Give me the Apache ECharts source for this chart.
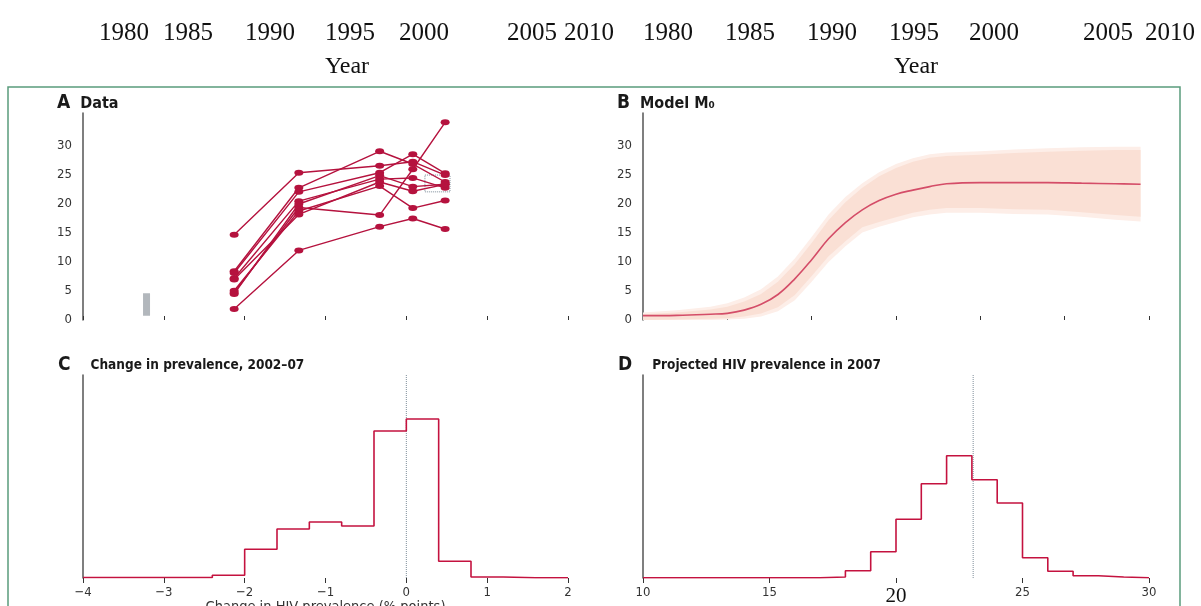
<!DOCTYPE html>
<html><head><meta charset="utf-8">
<script src="https://cdn.jsdelivr.net/npm/echarts@6/dist/echarts.min.js"></script>
<style>html,body{margin:0;padding:0;background:#fff}#c{width:1201px;height:606px}</style>
</head><body><div id="c"></div><script>
// ---------- data ----------
const yearTickLabels = ['1980', '1985', '1990', '1995', '2000', '2005', '2010'];
const axisTitleTop = 'Year';

// Panel A: survey years and prevalence (%) per site
const surveyYears = [1989.35, 1993.35, 1998.35, 2000.4, 2002.4];
const site1 = [14.7, 25.4, 26.6, 27.3, 25.0];
const site2 = [8.4, 22.8, 29.1, 26.9, 23.8];
const site3 = [8.1, 22.1, 25.4, 28.6, 25.3];
const site4 = [7.2, 20.5, 24.3, 24.5, 22.8];
const site5 = [4.7, 19.4, 18.1, 26.0, 34.1];
const site6 = [1.9, 12.0, 16.1, 17.5, 15.7];
const site7 = [5.05, 18.8, 23.1, 19.3, 20.6];
const site8 = [7.0, 18.2, 23.8, 22.2, 23.4];
const site9 = [4.5, 20.0, 24.9, 23.0, 23.4];
const greyBar = [1983.93, 0.74, 4.6];           // year, from, to
const dottedBox = [2001.15, 2002.7, 22.1, 25.0]; // x0, x1, y0, y1

// Panel B: model M0
const modelYears = [1980, 1982, 1984, 1985, 1986, 1987, 1988, 1989, 1990, 1991, 1992, 1993, 1994, 1995, 1996, 1997, 1998, 2000, 2002, 2004, 2006, 2008, 2009.5];
const modelMedian = [0.75, 0.8, 1.0, 1.15, 1.7, 2.7, 4.4, 7.1, 10.4, 14.0, 16.8, 19.0, 20.6, 21.7, 22.4, 23.0, 23.5, 23.7, 23.7, 23.7, 23.6, 23.5, 23.4];
const modelLower = [0.0, 0.1, 0.2, 0.3, 0.6, 1.1, 2.2, 4.3, 7.6, 11.0, 13.6, 16.0, 16.9, 17.7, 18.5, 19.0, 19.3, 19.3, 19.1, 19.0, 18.6, 18.1, 17.8];
const modelUpper = [1.0, 1.3, 1.8, 2.3, 3.2, 4.5, 6.6, 9.6, 13.3, 17.2, 20.3, 22.8, 24.8, 26.2, 27.3, 28.0, 28.3, 28.5, 28.8, 29.0, 29.2, 29.3, 29.3];
const modelLowerOuter = [0.0, 0.0, 0.0, 0.1, 0.2, 0.6, 1.5, 3.4, 6.6, 10.0, 12.7, 15.1, 16.1, 16.9, 17.7, 18.2, 18.5, 18.5, 18.3, 18.2, 17.8, 17.3, 17.0];
const modelUpperOuter = [1.3, 1.7, 2.3, 2.9, 3.9, 5.3, 7.5, 10.6, 14.3, 18.2, 21.2, 23.6, 25.5, 26.9, 27.9, 28.6, 28.9, 29.1, 29.4, 29.6, 29.8, 29.9, 29.9];

// Panel C: change in prevalence histogram
const changeBinStart = [-4.0, -3.6, -3.2, -2.8, -2.4, -2.0, -1.6, -1.2, -0.8, -0.4, 0.0, 0.4, 0.8, 1.2, 1.6];
const changeBinWidth = 0.4;
const changeHeights = [0.5, 0.5, 0.5, 0.5, 2.7, 28.7, 49, 56, 52, 147, 159, 16.7, 1.0, 0.3, 0.3];
const changeRef = 0;

// Panel D: projected prevalence in 2007 histogram
const prevBinStart = [10, 11, 12, 13, 14, 15, 16, 17, 18, 19, 20, 21, 22, 23, 24, 25, 26, 27, 28, 29];
const prevBinWidth = 1;
const prevHeights = [0.3, 0.3, 0.3, 0.3, 0.3, 0.3, 0.3, 1.0, 7.3, 26.3, 58.7, 94.3, 122.3, 98.3, 75, 20.3, 6.7, 2.3, 1.0, 0.3];
const prevRef = 23.05;

// ---------- layout / style ----------
const SANS = "'Liberation Sans Narrow','DejaVu Sans Condensed','Open Sans',sans-serif";
const SERIF = "'Liberation Serif','DejaVu Serif',serif";
const RED = '#b5123e';
const topLeftX = [124, 188, 270, 350, 424, 532, 589];
const topRightX = [668, 750, 832, 914, 994, 1108, 1170];

const sites = [site1, site2, site3, site4, site5, site6, site7, site8, site9];

function stepPoints(starts, width, heights) {
  const pts = [];
  starts.forEach((s, i) => { pts.push([s, heights[i]]); pts.push([s + width, heights[i]]); });
  return pts;
}
function bandRender(low, high, color) {
  return function (params, api) {
    const pts = [];
    for (let i = 0; i < modelYears.length; i++) pts.push(api.coord([modelYears[i], high[i]]));
    for (let i = modelYears.length - 1; i >= 0; i--) pts.push(api.coord([modelYears[i], low[i]]));
    return { type: 'polygon', shape: { points: pts }, style: { fill: color } };
  };
}

const graphic = [
  { type: 'rect', silent: true, z: -10, shape: { x: 8, y: 87, width: 1172, height: 540 },
    style: { fill: 'none', stroke: '#5a9c7c', lineWidth: 1.5 } }
];
yearTickLabels.forEach((t, i) => {
  [topLeftX[i], topRightX[i]].forEach(x => graphic.push({
    type: 'text', x: x, y: 33,
    style: { text: t, font: '25px ' + SERIF, fill: '#111', align: 'center', verticalAlign: 'middle', textAlign: 'center', textVerticalAlign: 'middle' }
  }));
});
[347, 916].forEach(x => graphic.push({
  type: 'text', x: x, y: 67,
  style: { text: axisTitleTop, font: '24px ' + SERIF, fill: '#111', align: 'center', verticalAlign: 'middle', textAlign: 'center', textVerticalAlign: 'middle' }
}));

const titleRich = {
  l: { fontFamily: SANS, fontSize: 19, fontWeight: 'bold', color: '#1a1a1a' },
  t: { fontFamily: SANS, fontSize: 16, fontWeight: 'bold', color: '#1a1a1a' },
  s: { fontFamily: SANS, fontSize: 13.5, fontWeight: 'bold', color: '#1a1a1a' }
};
const titles = [
  { text: '{l|A}  {t|Data}', left: 57, top: 94 },
  { text: '{l|B}  {t|Model M₀}', left: 617, top: 94 },
  { text: '{l|C}    {s|Change in prevalence, 2002–07}', left: 58, top: 356 },
  { text: '{l|D}    {s|Projected HIV prevalence in 2007}', left: 618, top: 356 }
].map(o => Object.assign(o, { padding: 0, textStyle: { rich: titleRich } }));

const yTopAxis = gi => ({
  type: 'value', gridIndex: gi, min: 0, max: 35.7, interval: 5,
  axisLine: { show: true, onZero: false, lineStyle: { color: '#555', width: 1.5 } },
  axisTick: { show: false }, splitLine: { show: false },
  axisLabel: { formatter: v => (v <= 30 ? String(v) : ''), fontFamily: SANS, fontSize: 13, color: '#333', margin: 11 }
});
const xTopAxis = gi => ({
  type: 'value', gridIndex: gi, min: 1980, max: 2010, interval: 5,
  axisLine: { show: false, onZero: false }, splitLine: { show: false },
  axisTick: { show: true, inside: true, length: 4, lineStyle: { color: '#333' } },
  axisLabel: { show: false }
});
const yHistAxis = gi => ({
  type: 'value', gridIndex: gi, min: 0, max: 203,
  axisLine: { show: true, onZero: false, lineStyle: { color: '#555', width: 1.5 } },
  axisTick: { show: false }, splitLine: { show: false }, axisLabel: { show: false }
});

const series = [];
sites.forEach(s => series.push({
  type: 'line', xAxisIndex: 0, yAxisIndex: 0,
  data: surveyYears.map((y, i) => [y, s[i]]),
  symbol: 'circle', symbolSize: [9, 6],
  lineStyle: { color: RED, width: 1.4 }, itemStyle: { color: RED }
}));
series.push({
  type: 'line', xAxisIndex: 0, yAxisIndex: 0, symbol: 'none',
  data: [[greyBar[0], greyBar[1]], [greyBar[0], greyBar[2]]],
  lineStyle: { color: '#b2b7bc', width: 7, cap: 'butt' }
});
series.push({
  type: 'line', xAxisIndex: 0, yAxisIndex: 0, symbol: 'none',
  data: [[dottedBox[0], dottedBox[3]], [dottedBox[1], dottedBox[3]], [dottedBox[1], dottedBox[2]], [dottedBox[0], dottedBox[2]], [dottedBox[0], dottedBox[3]]],
  lineStyle: { color: '#7b8b97', width: 1, type: 'dotted' }, z: 1
});
series.push({
  type: 'custom', xAxisIndex: 1, yAxisIndex: 1, data: [[1980, 0]], silent: true, z: 1,
  renderItem: bandRender(modelLowerOuter, modelUpperOuter, '#fdeee8')
});
series.push({
  type: 'custom', xAxisIndex: 1, yAxisIndex: 1, data: [[1980, 0]], silent: true, z: 1,
  renderItem: bandRender(modelLower, modelUpper, '#fae0d5')
});
series.push({
  type: 'line', xAxisIndex: 1, yAxisIndex: 1, symbol: 'none', smooth: 0.4,
  data: modelYears.map((y, i) => [y, modelMedian[i]]),
  lineStyle: { color: '#d44d68', width: 1.6 }
});
series.push({
  type: 'line', xAxisIndex: 2, yAxisIndex: 2, symbol: 'none',
  data: [[changeRef, 0], [changeRef, 203]],
  lineStyle: { color: '#7f8e9a', width: 1, type: 'dotted' }
});
series.push({
  type: 'line', xAxisIndex: 2, yAxisIndex: 2, symbol: 'none',
  data: stepPoints(changeBinStart, changeBinWidth, changeHeights),
  lineStyle: { color: '#c4123f', width: 1.6 }
});
series.push({
  type: 'line', xAxisIndex: 3, yAxisIndex: 3, symbol: 'none',
  data: [[prevRef, 0], [prevRef, 203]],
  lineStyle: { color: '#7f8e9a', width: 1, type: 'dotted' }
});
series.push({
  type: 'line', xAxisIndex: 3, yAxisIndex: 3, symbol: 'none',
  data: stepPoints(prevBinStart, prevBinWidth, prevHeights),
  lineStyle: { color: '#c4123f', width: 1.6 }
});

const histLabel = { fontFamily: SANS, fontSize: 13, color: '#333', margin: 8 };
const gridBase = { outerBoundsMode: 'none', containLabel: false };

const option = {
  animation: false,
  backgroundColor: '#fff',
  title: titles,
  graphic: graphic,
  grid: [
    Object.assign({ left: 83, top: 113, width: 485, height: 207 }, gridBase),
    Object.assign({ left: 643, top: 113, width: 506, height: 207 }, gridBase),
    Object.assign({ left: 83, top: 375, width: 485, height: 203 }, gridBase),
    Object.assign({ left: 643, top: 375, width: 506, height: 203 }, gridBase)
  ],
  xAxis: [
    xTopAxis(0), xTopAxis(1),
    { type: 'value', gridIndex: 2, min: -4, max: 2, interval: 1,
      axisLine: { show: false, onZero: false }, splitLine: { show: false },
      axisTick: { show: true, length: 5, lineStyle: { color: '#333' } },
      axisLabel: Object.assign({ formatter: v => String(v).replace('-', '−') }, histLabel),
      name: 'Change in HIV prevalence (% points)', nameLocation: 'middle', nameGap: 21,
      nameTextStyle: { fontFamily: SANS, fontSize: 14.5, color: '#333' } },
    { type: 'value', gridIndex: 3, min: 10, max: 30, interval: 5,
      axisLine: { show: false, onZero: false }, splitLine: { show: false },
      axisTick: { show: true, length: 5, lineStyle: { color: '#333' } },
      axisLabel: Object.assign({
        formatter: v => (v === 20 ? '{big|20}' : String(v)),
        rich: { big: { fontFamily: SERIF, fontSize: 21, color: '#111' } }
      }, histLabel) }
  ],
  yAxis: [yTopAxis(0), yTopAxis(1), yHistAxis(2), yHistAxis(3)],
  series: series
};

const chart = echarts.init(document.getElementById('c'), null, { renderer: 'canvas' });
chart.setOption(option);
</script></body></html>
